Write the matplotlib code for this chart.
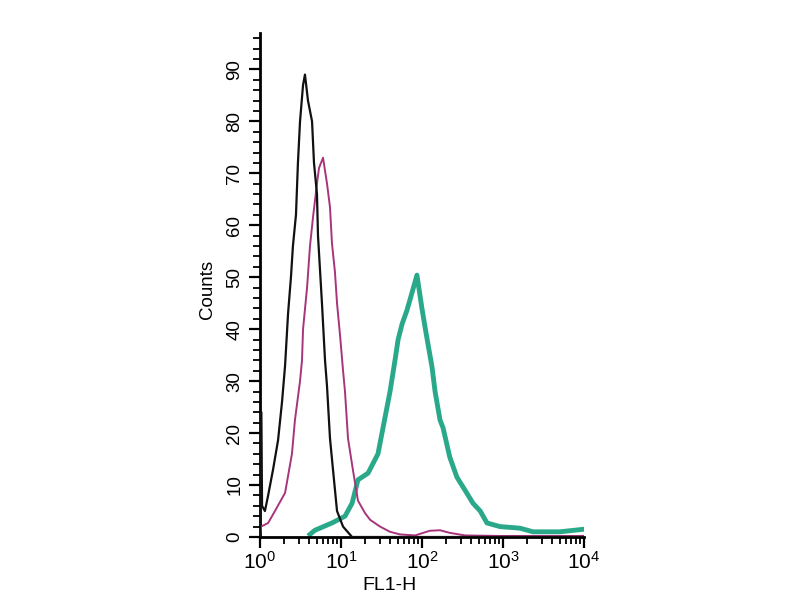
import numpy as np
import matplotlib.pyplot as plt
from matplotlib.ticker import MultipleLocator, LogLocator, NullFormatter

# ===== DATA =====
# isotype / unstained control (black)
ctrl_x = [1.0, 1.02, 1.04, 1.06, 1.15, 1.26, 1.45, 1.67, 1.87, 2.04, 2.22, 2.41, 2.55,
          2.78, 2.94, 3.12, 3.40, 3.59, 3.91, 4.39, 4.64, 5.05, 5.20, 5.82, 6.35,
          6.72, 7.31, 7.96, 8.93, 10.6, 13.7, 10000]
ctrl_y = [0, 24, 24, 6, 5, 8, 13, 18.6, 26, 33, 43, 50, 56, 62,
          72, 80, 87, 89, 84, 80, 72, 66, 58, 45, 34,
          29, 19, 13, 5, 2, 0, 0]

# secondary only (magenta)
sec_x = [1.0, 1.03, 1.26, 1.53, 2.04, 2.48, 2.70, 3.12, 3.30, 3.40, 3.81, 4.14,
         4.51, 5.05, 5.35, 6.00, 6.72, 7.31, 7.74, 8.42, 8.93, 9.71, 10.6, 11.2,
         12.2, 14.0, 16.2, 19.8, 22.9, 30.4, 40.3, 53.5, 82, 125, 167, 220,
         340, 920, 10000]
sec_y = [0, 2, 2.7, 5, 8.5, 16, 22.5, 30, 34, 40, 48, 56,
         61.5, 68, 71, 73, 68, 63.5, 56.5, 51, 45, 39, 32, 28,
         19, 13, 7, 4.6, 3.3, 2, 1, 0.5, 0.3, 1.2, 1.3, 0.8,
         0.3, 0.2, 0.2]

# stained cells (green)
stain_x = [4.14, 4.77, 7.74, 11.2, 13.7, 16.2, 21.6, 28.6, 33.0, 40.3, 46.4, 50.7,
           56.8, 65.1, 75.2, 86.6, 99.8, 109, 118, 133, 145, 167, 182, 220,
           270, 340, 426, 523, 634, 920, 1620, 2340, 3300, 5050, 10000]
stain_y = [0.5, 1.3, 2.7, 4, 6.5, 11, 12.3, 16, 21, 28, 34, 38,
           41, 43.6, 47, 50.4, 44, 40.4, 37.3, 32.7, 28, 22.5, 21, 15.4,
           11.5, 9, 6.5, 5, 2.7, 2, 1.7, 1, 1, 1, 1.5]

x_label = "FL1-H"
y_label = "Counts"

# ===== PLOT =====
plt.rcParams['font.family'] = ['Liberation Sans', 'DejaVu Sans']
fig = plt.figure(figsize=(8, 6), dpi=100)
ax = fig.add_axes([0.325, 0.105, 0.405, 0.84])

ax.plot(stain_x, stain_y, color="#2aa98a", lw=3.5, zorder=2)
ax.plot(sec_x, sec_y, color="#a8347c", lw=1.4, zorder=3)
ax.plot(ctrl_x, ctrl_y, color="#111111", lw=1.6, zorder=4)

ax.set_xscale("log")
ax.set_xlim(1, 10000)
ax.set_ylim(0, 97)

for s in ["top", "right"]:
    ax.spines[s].set_visible(False)
for s in ["left", "bottom"]:
    ax.spines[s].set_linewidth(2)

ax.yaxis.set_major_locator(MultipleLocator(10))
ax.yaxis.set_minor_locator(MultipleLocator(2))
ax.xaxis.set_major_locator(LogLocator(base=10, numticks=10))
ax.xaxis.set_minor_locator(LogLocator(base=10, subs=np.arange(2, 10), numticks=20))
ax.xaxis.set_minor_formatter(NullFormatter())

ax.tick_params(which="major", length=8, width=1.6, labelsize=15)
ax.tick_params(axis="x", pad=2)
ax.tick_params(which="minor", length=5, width=1.3)
ax.tick_params(axis="y", labelrotation=90, labelsize=13.5, pad=4)
for lab in ax.get_yticklabels():
    lab.set_va("center")

fig.text(0.259, 0.517, y_label, rotation=90, ha="center", va="center", fontsize=13.5)
fig.text(0.487, 0.025, x_label, ha="center", va="center", fontsize=14)

plt.savefig("out.png", dpi=100)
